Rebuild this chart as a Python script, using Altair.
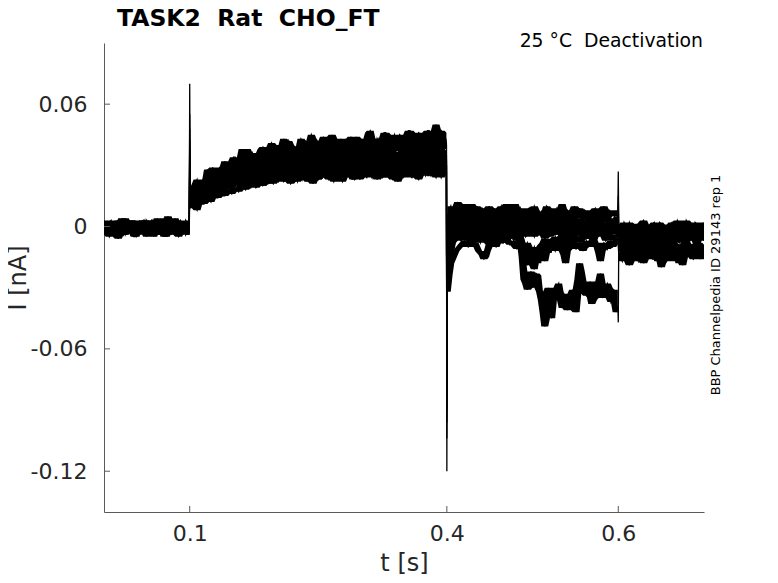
import altair as alt
import numpy as np
import pandas as pd

# ---- data: current in units of 0.001 nA ----
# eight sweeps; each segment has main samples and in-between samples (suffix 2)
SEG_A = [  # t = 0 .. 0.0995 s
    [2,-1,3,0,-3,1,4,-2,0,2,-1,3,-4,1,0,2,-2,4,-1,1,-3,2,0,3,-1],
    [-1,2,-3,1,0,-4,2,-1,3,-2,0,1,-3,2,-1,4,-2,0,-3,1,2,-2,1,-1,0],
    [0,-3,1,-2,3,-1,-4,1,-2,0,3,-3,1,-1,-5,2,0,-2,1,-4,0,2,-3,1,-2],
    [-3,0,-2,2,-4,-1,1,-3,0,-5,2,-1,-3,0,2,-2,-4,1,-1,-3,1,-2,0,-4,-1],
    [1,-2,0,-4,2,-3,0,3,-2,-1,-3,2,0,-4,1,-1,3,-3,0,-2,4,-1,-3,0,2],
    [-2,1,-4,0,-1,2,-3,-1,1,-2,-4,0,2,-3,-1,1,-2,-5,1,0,-2,-4,2,-1,-3],
    [3,-1,1,-2,0,4,-1,2,-3,1,0,-2,3,-1,2,0,-3,1,5,-2,0,1,-1,2,0],
    [-4,-1,-3,1,-6,-2,0,-3,-1,-4,1,-2,-5,0,-3,-1,-4,2,-2,-3,0,-5,-1,-2,-4],
]
SEG_A2 = [
    [-1,2,-2,1,3,-1,0,2,-3,1,2,-2,0,3,-1,1,-2,2,0,-3,1,3,-1,1],
    [1,-2,0,-1,2,-3,1,0,-2,2,-1,3,0,-2,1,-3,2,-1,1,0,-3,2,-2,1],
    [-2,1,-1,0,-3,2,-2,0,3,-1,-2,1,-3,0,-1,-2,2,-3,-1,1,-2,0,-1,-3],
    [0,-3,1,-2,-1,-3,0,-1,-4,1,-2,0,-3,-1,-4,1,-2,-1,-3,0,-1,-3,1,-2],
    [-1,2,-3,0,-1,2,-2,0,1,-3,0,-2,2,-1,0,-3,1,-1,2,0,-2,1,-2,0],
    [0,-3,-1,-2,1,-4,0,-2,-3,0,-1,-3,-2,1,-3,-1,0,-2,-3,-1,0,-2,-3,0],
    [1,2,-1,2,1,-2,3,0,-1,2,-1,1,0,3,-2,1,2,-1,0,3,-1,0,2,-2],
    [-2,-5,-1,-3,-2,-4,-1,-2,-5,-1,-3,-2,-1,-4,-2,-3,-1,-5,-3,-1,-4,-2,-3,-1],
]
SPIKE_01 = [70, 55, 48, 42, 38, 34, 30, 26]
SEG_B = [  # t = 0.1005 .. 0.3995 s
    [19,15,23,16,22,28,21,25,21,29,32,28,26,34,29,38,33,30,36,29,36,39,34,32,40,38,35,43,37,40,
     33,39,43,37,39,45,36,38,42,35,41,45,38,40,35,43,41,37,44,39,36,43,47,39,41,38,46,43,37,45,
     41,44,38,47,43,41,46,38,44,47,41,50,43,46,40],
    [13,18,16,21,19,24,22,20,27,24,29,25,30,27,31,26,32,30,35,29,33,31,36,30,34,37,
     32,36,33,38,34,31,37,35,39,33,36,34,38,33,37,40,35,39,36,41,34,38,37,42,36,
     40,35,39,43,37,41,36,40,38,44,37,39,42,36,41,38,44,39,37,42,40,45,38,41],
    [15,12,17,15,20,18,22,19,24,21,23,27,25,29,26,28,31,27,30,25,32,29,31,28,33,30,
     34,29,32,35,31,33,30,36,32,34,31,35,33,37,32,35,30,36,34,38,33,35,31,37,34,
     36,32,38,35,33,37,34,39,33,36,35,38,34,39,36,33,38,35,40,36,34,39,37,35],
    [11,15,13,17,14,19,17,21,18,22,20,24,22,26,23,27,25,29,24,28,26,30,27,25,31,28,
     32,29,31,27,33,30,34,28,32,30,35,31,29,34,31,33,28,35,32,30,34,31,36,32,33,
     30,35,33,31,36,32,34,29,35,33,37,32,34,31,36,33,38,32,35,34,37,31,36,33],
    [14,11,16,14,18,15,20,17,19,22,20,23,21,25,22,27,24,26,23,28,25,27,30,26,24,29,
     27,31,28,26,32,29,27,30,33,28,31,29,32,28,30,27,33,31,29,34,30,28,32,31,29,
     33,30,28,34,31,29,33,35,30,32,28,34,31,29,33,30,35,32,28,34,31,33,30,32],
    [10,14,12,15,13,17,16,19,17,20,18,22,20,24,21,23,20,25,22,26,24,21,27,23,25,28,
     24,27,25,29,26,23,28,27,30,25,28,26,31,27,29,25,30,28,32,27,29,31,26,30,28,
     32,27,30,29,25,31,28,33,29,27,31,30,28,32,27,30,33,29,26,31,30,28,32,29],
    [13,10,14,12,16,14,18,15,17,20,18,21,19,23,20,22,19,24,21,25,23,20,26,22,24,27,
     23,26,24,28,25,22,27,25,29,24,26,23,28,25,27,24,29,26,30,25,27,23,29,28,25,
     29,26,31,27,24,28,26,30,25,28,27,31,26,29,24,28,30,25,27,29,26,31,28,27],
    [9,12,8,13,11,15,12,16,14,17,15,18,16,19,17,21,18,20,22,19,23,20,22,24,21,23,
     25,22,24,21,26,23,25,27,22,24,26,23,25,28,23,26,24,27,22,25,28,24,26,23,27,
     24,26,29,23,27,25,28,24,26,22,27,25,28,24,26,23,27,29,25,27,24,28,26,29],
]
SEG_B2 = [
    [13,21,18,15,23,23,29,23,29,23,29,26,34,30,26,34,38,31,34,30,38,36,33,41,36,34,40,38,42,35,
     39,33,42,37,39,43,38,36,44,37,41,36,41,43,35,40,44,38,39,43,37,46,41,37,43,40,46,39,43,37,
     45,42,40,47,39,44,45,40,47,42,44,39,47,46],
    [17,14,20,17,23,20,25,22,26,23,28,26,31,28,33,29,31,34,28,35,32,30,36,33,35,
     31,37,33,35,32,38,34,36,33,39,35,32,37,34,39,36,33,40,37,35,41,36,39,34,40,
     37,42,38,36,41,39,43,37,40,38,42,36,41,38,43,39,37,42,40,44,38,41,39,43],
    [13,16,14,18,16,21,19,23,20,22,25,23,28,27,30,25,29,28,32,27,30,33,28,31,29,
     33,31,35,30,34,32,36,31,33,35,30,34,32,36,31,34,37,33,35,32,36,34,38,32,35,
     33,37,34,36,32,38,35,33,37,34,36,39,35,37,34,38,36,33,39,35,37,34,38,36],
    [14,12,16,15,18,16,20,18,21,19,23,21,25,24,27,23,28,26,25,30,27,29,26,28,30,
     29,31,28,33,30,32,29,34,31,29,33,30,32,31,35,30,33,32,29,34,31,35,32,30,34,
     33,31,36,32,34,30,35,33,31,36,34,32,36,33,35,32,37,34,36,33,35,38,34,35],
    [12,15,13,17,16,19,18,16,21,19,22,24,22,23,26,25,23,28,26,24,29,27,25,28,27,
     30,27,29,31,27,30,28,32,29,31,27,30,32,29,31,28,32,30,33,29,31,32,30,33,28,
     31,32,29,33,30,32,34,29,31,33,30,32,33,30,32,29,34,31,33,30,32,34,29,33],
    [12,11,15,14,16,15,18,17,19,18,21,19,23,22,24,23,21,26,24,22,27,25,23,26,24,
     27,25,28,26,30,27,25,29,28,26,29,27,31,28,30,26,29,31,27,30,28,32,27,29,30,
     29,31,28,30,27,32,29,28,31,30,27,32,30,28,31,29,27,32,30,28,31,29,33,28],
    [11,13,12,15,13,17,15,19,16,18,20,19,22,21,23,21,25,22,20,26,23,25,21,24,26,
     25,24,27,23,26,24,28,26,23,27,25,28,24,27,26,29,25,28,24,28,27,30,26,28,25,
     28,27,25,29,26,30,27,24,29,27,26,30,27,25,30,28,26,29,27,25,30,28,26,29],
    [11,10,12,11,14,13,15,14,16,15,18,17,19,18,20,19,22,19,21,20,23,21,24,22,25,
     22,24,23,25,22,26,24,23,26,25,21,25,24,27,24,26,22,27,25,24,28,25,23,27,26,
     25,27,24,26,28,24,27,25,23,28,26,24,27,25,28,24,26,28,25,29,26,27,24,28],
]
SPIKE_04 = [-120, -104, -96, -90, -84, -78, -72, -66]
SEG_C = [  # t = 0.4005 .. 0.5995 s
    [2,10,6,12,4,8,5,11,3,7,9,4,10,6,2,8,5,11,3,7,6,9,4,8,2,10,5,7,3,9,6,4,8,11,5,7,3,6,9,4,7,5,8,3,6,10,4,7,5,8],
    [-8,6,1,5,8,2,4,0,7,3,5,1,6,2,4,8,0,3,5,1,7,2,4,6,0,3,5,2,8,1,4,3,6,0,5,2,7,3,1,4,6,2,5,0,3,6,2,4,1,5],
    [-12,-2,3,-1,2,0,4,-2,1,3,-1,2,5,-1,1,3,-2,2,0,4,-1,1,3,-2,2,0,5,-1,2,1,-2,3,0,2,-1,4,1,-1,2,0,3,-2,1,4,0,2,-1,3,1,0],
    [-15,-5,0,-2,1,-3,-1,2,-2,0,-4,1,-1,-3,2,-2,0,-4,-1,1,-3,0,-2,2,-1,-4,0,-2,1,-3,-1,0,-4,2,-2,-1,1,-3,0,-2,-5,1,-1,-3,0,2,-2,-1,-3,0],
    [-20,-8,-3,0,-4,-1,-3,-5,0,-2,-4,1,-3,-1,-5,-2,0,-4,-2,-6,-1,-3,0,-4,-2,-5,-1,-3,-6,-2,0,-4,-1,-3,-5,-2,-7,-1,-4,-2,-3,-6,-1,-4,-2,0,-5,-3,-1,-4],
    [-22,-10,-5,-3,-6,-2,-4,-7,-3,-5,-1,-4,-6,-3,-5,-2,-7,-4,-3,-6,-2,-5,-12,-8,-15,-10,-18,-9,-6,-13,-8,-5,-7,-4,-10,-6,-3,-5,-8,-4,-6,-3,-7,-5,-4,-2,-6,-4,-7,-5],
    [-25,-12,-6,-4,-7,-3,-5,-8,-2,-6,-4,-7,-9,-5,-3,-6,-8,-4,-6,-3,-7,-5,
     -26,-31,-22,-27,-24,-36,-49,-30,-45,-33,-28,-40,-35,-38,-31,-42,-18,-29,-34,-27,-36,-30,-23,-33,-28,-37,-31,-39],
    [-32,-18,-14,-11,-9,-7,-10,-6,-8,-12,-14,-15,-9,-7,-10,-6,-8,-5,-9,-7,-11,-6,-14,-19,-10,-21,-13,-9,-17,-11,-8,-12,-7,-10,-18,-9,-6,-11,-8,-12,-7,-9,-6,-10,-17,-8,-11,-7,-9,-6],
]
SEG_C2 = [
    [8,4,9,6,11,5,7,3,10,6,8,4,7,9,5,10,6,3,8,11,5,7,4,9,6,8,3,7,10,5,6,9,4,7,8,5,10,4,6,8,3,7,9,5,6,4,8,6,7],
    [2,4,6,1,3,7,2,5,0,4,6,3,1,5,2,7,3,4,0,6,2,5,3,1,6,4,0,5,3,7,2,4,1,6,3,5,2,0,4,6,3,1,5,2,4,7,3,2,4],
    [-5,1,-1,3,0,2,-1,3,0,1,-2,3,1,0,4,-1,2,0,-2,3,1,-1,2,0,3,-2,1,2,-1,0,3,1,-2,2,0,-1,3,1,0,2,-1,1,3,-2,2,0,1,-1,2],
    [-9,-2,-1,0,-3,1,-2,-1,-4,0,-2,1,-3,-1,0,-2,-4,1,-1,-3,0,-2,-1,-3,1,-2,0,-4,-1,-2,1,-3,0,-1,-2,-4,0,-1,-3,1,-2,0,-3,-1,-2,0,-4,-1,-2],
    [-12,-5,-2,-3,-1,-4,-2,0,-3,-5,-1,-2,-4,0,-3,-1,-5,-2,-3,-1,-4,-2,-5,-1,-3,0,-4,-2,-1,-5,-3,-2,-4,0,-3,-1,-5,-2,-3,-4,-1,-2,-5,-3,0,-2,-4,-1,-3],
    [-15,-7,-4,-5,-3,-6,-5,-3,-4,-6,-3,-5,-4,-7,-3,-5,-4,-6,-5,-3,-4,-8,-10,-14,-12,-16,-11,-8,-10,-7,-6,-9,-5,-7,-8,-4,-6,-5,-7,-3,-5,-6,-4,-3,-5,-7,-5,-6,-4],
    [-17,-8,-5,-6,-4,-6,-7,-4,-5,-8,-5,-6,-7,-4,-5,-7,-5,-6,-4,-6,-5,-15,
     -28,-25,-30,-23,-32,-42,-38,-40,-36,-30,-36,-33,-41,-35,-37,-26,-22,-33,-31,-38,-28,-27,-35,-32,-30,-35,-42],
    [-24,-16,-12,-10,-8,-9,-7,-8,-10,-13,-16,-12,-8,-9,-7,-8,-6,-7,-8,-10,-8,-11,-16,-13,-18,-15,-11,-14,-13,-9,-10,-9,-8,-14,-12,-7,-9,-10,-9,-8,-10,-7,-8,-13,-12,-9,-8,-10,-7],
]
SPIKE_06 = [27, 15, 10, 6, 2, -2, -47, -10]
SEG_D = [  # t = 0.6005 .. 0.7 s
    [1,-2,0,2,-3,1,-1,3,-2,0,2,-1,1,-3,0,2,-2,1,-1,3,0,-2,1,-1,2],
    [-1,-4,0,-3,1,-2,-5,0,-1,-4,1,-2,-3,0,-5,-1,-2,1,-4,-1,-3,0,-2,-4,-1],
    [-3,-6,-2,-5,-1,-4,-7,-2,-5,-3,-1,-6,-4,-2,-5,-3,-7,-1,-4,-6,-2,-5,-3,-1,-4],
    [-6,-3,-7,-4,-2,-6,-5,-8,-3,-5,-7,-2,-6,-4,-8,-3,-5,-6,-2,-7,-4,-6,-3,-5,-7],
    [-4,-8,-5,-7,-3,-6,-9,-4,-7,-5,-8,-3,-6,-9,-5,-7,-4,-8,-6,-3,-7,-5,-9,-4,-6],
    [-10,-6,-9,-12,-7,-10,-8,-13,-6,-9,-11,-7,-10,-14,-8,-6,-11,-9,-13,-7,-10,-12,-8,-11,-9],
    [-12,-9,-15,-10,-13,-8,-16,-11,-9,-14,-12,-17,-10,-13,-9,-15,-11,-18,-12,-10,-14,-9,-13,-16,-11],
    [-13,-17,-10,-19,-12,-15,-11,-18,-14,-10,-16,-13,-20,-11,-15,-12,-17,-14,-19,-11,-13,-16,-10,-14,-12],
]
SEG_D2 = [
    [-1,2,-2,0,1,-1,2,0,-2,1,-1,2,0,-2,1,-1,3,0,-2,1,-1,2,0,-1],
    [-3,-1,-2,0,-4,-1,-2,-3,0,-2,-4,-1,-2,-3,0,-4,-1,-2,-3,0,-1,-3,-2,0],
    [-4,-2,-5,-3,-2,-6,-3,-4,-2,-5,-3,-4,-6,-2,-4,-3,-5,-2,-4,-3,-5,-2,-4,-3],
    [-4,-6,-5,-3,-7,-4,-6,-4,-7,-3,-5,-6,-4,-7,-5,-3,-6,-4,-5,-7,-3,-5,-6,-4],
    [-6,-5,-8,-6,-4,-8,-6,-7,-5,-8,-6,-5,-8,-6,-4,-7,-6,-5,-8,-6,-4,-7,-6,-5],
    [-8,-11,-7,-9,-10,-8,-11,-9,-7,-10,-9,-12,-8,-10,-11,-8,-9,-10,-8,-11,-9,-10,-8,-10],
    [-10,-13,-11,-12,-10,-14,-12,-10,-13,-11,-14,-12,-11,-13,-10,-14,-12,-11,-13,-11,-12,-10,-13,-12],
    [-15,-12,-16,-14,-13,-17,-12,-15,-13,-16,-12,-15,-14,-17,-13,-14,-16,-12,-15,-14,-13,-15,-12,-13],
]
X_TICKS = [0.1, 0.4, 0.6]
Y_TICKS = [0.06, 0.0, -0.06, -0.12]
TITLE = "TASK2\u00a0\u00a0Rat\u00a0\u00a0CHO_FT"
CONDITION = "25 °C\u00a0\u00a0Deactivation"
SOURCE = "BBP Channelpedia ID 29143 rep 1"


# ---- table ----
def seg(t0, t1, main, mid):
    ts = np.linspace(t0, t1, len(main))
    pts = list(zip(ts, main))
    if len(ts) > 1:
        pts += list(zip((ts[:-1] + ts[1:]) / 2.0, mid))
    return sorted(pts)


rows = []
for i in range(len(SEG_A)):
    parts = [
        ("A", seg(0.0, 0.0995, SEG_A[i], SEG_A2[i])),
        ("s1", [(0.1, SPIKE_01[i])]),
        ("B", seg(0.1005, 0.3995, SEG_B[i], SEG_B2[i])),
        ("s2", [(0.4, SPIKE_04[i])]),
        ("C", seg(0.4005, 0.5995, SEG_C[i], SEG_C2[i])),
        ("s3", [(0.6, SPIKE_06[i])]),
        ("D", seg(0.6005, 0.7, SEG_D[i], SEG_D2[i])),
    ]
    for name, pts in parts:
        for t, v in pts:
            rows.append({"trace": i, "seg": name, "t": float(t), "I": v / 1000.0})
df = pd.DataFrame(rows)

W, H = 600, 469
FONT = "DejaVu Sans"
AX = "#5a5a5a"
TXT = "#262626"

xscale = alt.Scale(domain=[0, 0.7], nice=False, zero=False)
yscale = alt.Scale(domain=[-0.14, 0.09], nice=False, zero=False)
xaxis = alt.Axis(title="t [s]", values=X_TICKS, format=".1f", ticks=False, grid=False,
                 domainColor=AX, labelFontSize=22, labelColor=TXT, labelFont=FONT,
                 labelPadding=11, titleFontSize=24, titleFont=FONT, titleColor=TXT,
                 titleFontWeight="normal", titlePadding=7)
yaxis = alt.Axis(title="I [nA]", values=Y_TICKS, ticks=False, grid=False,
                 labelExpr="datum.value == 0 ? '0' : (datum.value < 0 ? '-' + format(-datum.value, '.2f') : format(datum.value, '.2f'))",
                 domainColor=AX, labelFontSize=22, labelColor=TXT, labelFont=FONT,
                 labelPadding=17, titleFontSize=24, titleFont=FONT, titleColor=TXT,
                 titleFontWeight="normal", titlePadding=0)

base = alt.Chart(df)

lines = base.mark_line(color="black", strokeWidth=1.3, clip=True).encode(
    x=alt.X("t:Q", scale=xscale, axis=xaxis),
    y=alt.Y("I:Q", scale=yscale, axis=yaxis),
    detail="trace:N",
    order="t:Q",
)

# each sweep drawn as the band its noisy samples sweep through (neighbouring-sample min/max),
# computed within each stimulus segment so the transients stay thin
band = base.transform_window(
    lo="min(I)", hi="max(I)", frame=[-2, 2], groupby=["trace", "seg"], sort=[{"field": "t"}]
).mark_area(color="black", opacity=1, clip=True).encode(
    x=alt.X("t:Q", scale=xscale, axis=xaxis),
    y=alt.Y("lo:Q", scale=yscale, axis=yaxis),
    y2="hi:Q",
    detail="group:N",
).transform_calculate(group="datum.trace + '_' + datum.seg")

xt = alt.Chart(pd.DataFrame({"t": X_TICKS})).mark_rule(color=AX, strokeWidth=1).encode(
    x=alt.X("t:Q", scale=xscale), y=alt.value(H), y2=alt.value(H - 6))
yt = alt.Chart(pd.DataFrame({"I": Y_TICKS})).mark_rule(color=AX, strokeWidth=1).encode(
    y=alt.Y("I:Q", scale=yscale), x=alt.value(0), x2=alt.value(6))

cond = alt.Chart(pd.DataFrame({"s": [CONDITION]})).mark_text(
    font=FONT, fontSize=18.8, color="black", align="right", baseline="alphabetic").encode(
    text="s:N", x=alt.value(W - 1), y=alt.value(4))
src = alt.Chart(pd.DataFrame({"s": [SOURCE]})).mark_text(
    font=FONT, fontSize=13, color="black", align="center", baseline="middle", angle=270).encode(
    text="s:N", x=alt.value(W + 12), y=alt.value(242))

chart = alt.layer(lines, band, xt, yt, cond, src).properties(
    width=W, height=H,
    title=alt.TitleParams(TITLE, anchor="start", frame="group", dx=13, dy=12, fontSize=23.5,
                          fontWeight="bold", font=FONT, color="black", offset=14),
    autosize=alt.AutoSizeParams(type="none"),
    padding={"left": 96, "top": 35, "right": 66, "bottom": 63},
).configure_view(stroke=None)

chart.save("out.html", embed_options={"renderer": "svg", "actions": False})
